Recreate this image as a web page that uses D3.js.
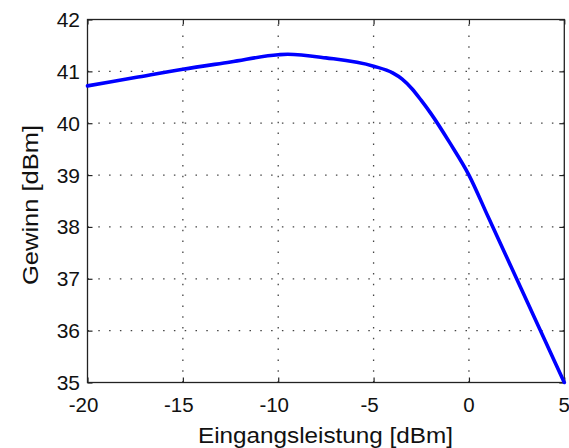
<!DOCTYPE html>
<html><head><meta charset="utf-8">
<script src="https://cdn.jsdelivr.net/npm/d3@7/dist/d3.min.js"></script>
<style>
html,body{margin:0;padding:0;background:#fff;}
svg{display:block;font-family:"Liberation Sans",Arial,sans-serif;}
</style></head>
<body>
<svg id="chart" width="569" height="448"></svg>
<script>
const inputPower = [-20, -17.5, -15, -12.5, -10, -9.5, -7.5, -5, -4, -3.5, -3, -2.5, -2, -1, 0, 1, 2, 3, 4, 5];
const gain       = [40.72, 40.88, 41.04, 41.18, 41.32, 41.33, 41.26, 41.10, 40.97, 40.85, 40.67, 40.44, 40.19, 39.62, 39.0, 38.2, 37.4, 36.6, 35.8, 35.0];
const xTicks = [-20, -15, -10, -5, 0, 5];
const yTicks = [35, 36, 37, 38, 39, 40, 41, 42];
const xLabel = "Eingangsleistung [dBm]";
const yLabel = "Gewinn [dBm]";

const svg = d3.select("#chart");
const L = 87.5, R = 564.3, T = 19.5, B = 382.5;
const x = d3.scaleLinear().domain([-20, 5]).range([L, R]);
const y = d3.scaleLinear().domain([35, 42]).range([B, T]);

// grid
const grid = svg.append("g").attr("stroke", "#444").attr("stroke-width", 1.3)
  .attr("stroke-dasharray", "1.5,9.3");
xTicks.slice(1, -1).forEach(v => grid.append("line")
  .attr("x1", x(v)).attr("x2", x(v)).attr("y1", B).attr("y2", T));
yTicks.slice(1, -1).forEach(v => grid.append("line")
  .attr("y1", y(v)).attr("y2", y(v)).attr("x1", L).attr("x2", R));

// axes (ticks inside)
const tickLen = 5;
const axB = svg.append("g").attr("transform", `translate(0,${B})`)
  .call(d3.axisTop(x).tickValues(xTicks).tickSize(tickLen).tickFormat(""));
const axT = svg.append("g").attr("transform", `translate(0,${T})`)
  .call(d3.axisBottom(x).tickValues(xTicks).tickSize(tickLen).tickFormat(""));
const axL = svg.append("g").attr("transform", `translate(${L},0)`)
  .call(d3.axisRight(y).tickValues(yTicks).tickSize(tickLen).tickFormat(""));
const axR = svg.append("g").attr("transform", `translate(${R},0)`)
  .call(d3.axisLeft(y).tickValues(yTicks).tickSize(tickLen).tickFormat(""));
[axB, axT, axL, axR].forEach(a => {
  a.select(".domain").remove();
  a.selectAll("line").attr("stroke", "#222").attr("stroke-width", 1.2);
});
svg.append("rect").attr("x", L).attr("y", T).attr("width", R - L).attr("height", B - T)
  .attr("fill", "none").attr("stroke", "#222").attr("stroke-width", 1.3);

// tick labels
svg.append("g").selectAll("text").data(xTicks).join("text")
  .attr("x", d => x(d) + (d < 0 ? -4 : 0)).attr("y", 412)
  .attr("text-anchor", "middle").attr("font-size", 20.5).attr("fill", "#111")
  .text(d => d < 0 ? "-" + Math.abs(d) : d);
svg.append("g").selectAll("text").data(yTicks).join("text")
  .attr("x", 80).attr("y", d => y(d)).attr("dy", "0.36em")
  .attr("text-anchor", "end").attr("font-size", 21).attr("fill", "#111")
  .text(d => d);

// axis labels
svg.append("text").attr("x", 325.5).attr("y", 443).attr("text-anchor", "middle")
  .attr("font-size", 21.5).attr("fill", "#111")
  .attr("textLength", 255).attr("lengthAdjust", "spacingAndGlyphs").text(xLabel);
svg.append("text").attr("transform", "translate(38,205) rotate(-90)")
  .attr("text-anchor", "middle").attr("font-size", 21.5).attr("fill", "#111")
  .attr("textLength", 160).attr("lengthAdjust", "spacingAndGlyphs").text(yLabel);

// curve
const line = d3.line().x((d, i) => x(inputPower[i])).y(d => y(d)).curve(d3.curveMonotoneX);
svg.append("path").datum(gain).attr("d", line)
  .attr("fill", "none").attr("stroke", "#0000ff").attr("stroke-width", 3.6)
  .attr("stroke-linejoin", "round").attr("stroke-linecap", "round");
</script>
</body></html>
